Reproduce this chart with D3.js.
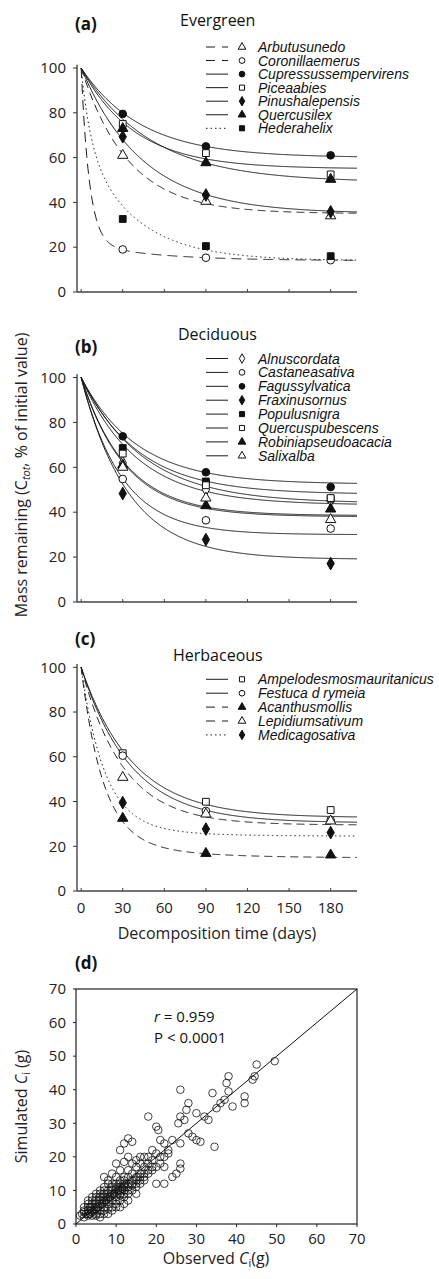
<!DOCTYPE html>
<html><head><meta charset="utf-8">
<script src="https://cdn.jsdelivr.net/npm/d3@7"></script>
<style>body{margin:0;background:#fff} svg{display:block}</style>
</head><body>
<svg id="chart" width="439" height="1279"></svg>
<script>
// ---------- data ----------
const days = [30, 90, 180];
const xTickValues = [0, 30, 60, 90, 120, 150, 180];
const yTickValues = [0, 20, 40, 60, 80, 100];
const scatterTickValues = [0, 10, 20, 30, 40, 50, 60, 70];

const evergreenSpecies = ["Arbutusunedo","Coronillaemerus","Cupressussempervirens","Piceaabies","Pinushalepensis","Quercusilex","Hederahelix"];
const evergreenMarkers = ["triangle-open","circle-open","circle","square-open","diamond","triangle","square"];
const evergreenLines = ["dash","longdash","solid","solid","solid","solid","dot"];
const evergreenValues = [[61,40.5,34],[19,15.3,14.2],[79.5,65,61],[75,62,52.5],[69.3,43.3,35.8],[73,57.7,50.3],[32.6,20.5,16]];
const evergreenAsymptote = [35,14,60,49,35,55,14];
const evergreenSlowPool = [65,8,40,51,65,45,53.8];
const evergreenSlowRate = [0.0297,0.02,0.0231,0.0198,0.0226,0.0258,0.0269];
const evergreenFastRate = [0,0.17,0,0,0,0,0.15];

const deciduousSpecies = ["Alnuscordata","Castaneasativa","Fagussylvatica","Fraxinusornus","Populusnigra","Quercuspubescens","Robiniapseudoacacia","Salixalba"];
const deciduousMarkers = ["diamond-open","circle-open","circle","diamond","square","square-open","triangle","triangle-open"];
const deciduousLines = ["solid","solid","solid","solid","solid","solid","solid","solid"];
const deciduousValues = [[62,50,45.3],[54.8,36.4,32.7],[73.8,57.8,51.2],[48.3,27.8,17.1],[68.6,53.7,46],[66.1,52,46.3],[61,42.9,41.4],[60,46.3,36.7]];
const deciduousAsymptote = [43.2,30,52.5,19,48,44,38.5,38];
const deciduousSlowPool = [56.8,70,47.5,81,52,56,61.5,62];
const deciduousSlowRate = [0.0248,0.0343,0.0247,0.0294,0.0243,0.0223,0.0308,0.0312];
const deciduousFastRate = [0,0,0,0,0,0,0,0];

const herbaceousSpecies = ["Ampelodesmosmauritanicus","Festuca d rymeia","Acanthusmollis","Lepidiumsativum","Medicagosativa"];
const herbaceousMarkers = ["square-open","circle-open","triangle","triangle-open","diamond"];
const herbaceousLines = ["solid","solid","dash","dash","dot"];
const herbaceousValues = [[61.6,39.9,36.2],[60.5,35.8,31.7],[32.5,16.8,16.1],[50.8,34.4,31.3],[39.5,27.7,26.1]];
const herbaceousAsymptote = [32.8,30.5,14.8,29.5,24.5];
const herbaceousSlowPool = [67.2,69.5,10,70.5,5];
const herbaceousSlowRate = [0.027,0.028,0.02,0.033,0.02];
const herbaceousFastRate = [0,0,0.065,0,0.06];

// observed, simulated (g)
const scatterPairs = [
 [49.5,48.5],[45,47.5],[44.5,44],[44,43],[42,38],[42,36],[38,44],[37.5,42],[38,39.5],[37,37],[36,36],[35,34.5],[34.5,23],[39,35],[33,31],[32,32],[34,39],
 [26,40],[27.5,34],[28,36],[26,32],[27,31],[25.5,30],[29,26],[30,25],[31,24.5],[30,33],[28,27],[26,24],[26,18],[26,16.5],[25,15],[24,25],[23,22],
 [20,29],[20.5,28],[18,32],[21,25],[22,24],[19,22],[17,20],[18,20],[22,20],[21,18],[20,17],[19,16],[16,20],[17,17],[18,18],[19,19],[20,21],[21,20],[23,21],[22,17],
 [24,14],[22,12],[20,12],
 [12,24],[13,25.5],[14,24.5],[11,22],[13,20],[10,18],[12,18.5],[11,16],[15,17],[16,15],[15,14],[17,13],[13,12],[14,15],[12,14],[11,13],[13,16],[14,18],[16,18],[15,19],[10,14],[9,15],[8,12],[7,14],[12,11],[11,10],[10,11],[14,13],[12,12],[15,12],[16,13],[13,14],[11,12],[10,12],[9,11],[8,10],[7,9],[6,8],
 [2,2],[2.5,3],[3,2.5],[3,4],[3.5,3],[4,3.5],[4,5],[4.5,4],[5,4.5],[5,6],[5.5,5],[6,5.5],[6,7],[6.5,6],[7,6.5],[7,8],[7.5,7],[8,7.5],[8,9],[8.5,8],[9,8.5],[9,10],[9.5,9],[10,9.5],[10,10.5],[10.5,10],[11,11],[11.5,10.5],[12,11.5],[12,13],
 [3,6],[4,7],[5,8],[5,3],[6,4],[7,5],[8,6],[9,7],[10,8],[11,9],[12,10],[2,4],[3,5],[4,2.5],[6,3],[7,4],[8,4.5],[9,5],[10,6],[11,7],[12,8],[13,9],[14,10],[15,11],[13,10],[14,11.5],[16,12],[17,14],[18,15],[6,10],[5,9],[7,11],[4,8],[3,7],[8,13],[9,12],[2,5],[1.5,3],[1,2.5],[4,4],[5,5],[6,6],[7,7],[3,3],[8,8],[9,9],[10,7],[11,8.5],[12,9],[13,11],[14,12],[15,13],[16,14],[17,15],[18,16],[19,17],[4,6],[5,7],[6,9],[2,3.5],[3.5,5],[7,10],[5,2.5],[6,2],[8,3],[9,4],[10,5],[12,6],[7,3],[13,7],[15,9],[11,5]
];
const statR = "0.959";
const statP = "P < 0.0001";

// ---------- drawing ----------
const svg = d3.select("#chart");
const FONT = "'Open Sans', sans-serif";
const LFONT = "'Liberation Sans', Arial, sans-serif";
const x = d3.scaleLinear().domain([-3, 199]).range([77, 357]);

const dashes = {solid: null, dash: "8,5", longdash: "10,6", dot: "1.5,3"};
const legendDashes = {solid: null, dash: "9,7", longdash: "9,7", dot: "1.5,3"};

function symbolFor(name, size) {
  const base = name.replace("-open", "");
  const type = {circle: d3.symbolCircle, square: d3.symbolSquare, triangle: d3.symbolTriangle, diamond: d3.symbolDiamond}[base];
  return d3.symbol().type(type).size(size)();
}
function drawMarker(g, name, cx, cy, size) {
  const open = name.endsWith("-open");
  g.append("path").attr("d", symbolFor(name, size))
    .attr("transform", `translate(${cx},${cy})`)
    .attr("fill", open ? "#fff" : "#111")
    .attr("stroke", "#111").attr("stroke-width", 1);
}

function drawPanel(p) {
  const y = d3.scaleLinear().domain([0, 100]).range([p.bottom, p.top]);
  const g = svg.append("g");
  g.append("line").attr("x1", 77).attr("x2", 77).attr("y1", y(0)).attr("y2", y(101.5))
    .attr("stroke", "#333").attr("stroke-width", 1.3);
  g.append("line").attr("x1", 77).attr("x2", 357).attr("y1", y(0)).attr("y2", y(0))
    .attr("stroke", "#444").attr("stroke-width", 1.5);
  xTickValues.forEach(t => {
    g.append("line").attr("x1", x(t)).attr("x2", x(t)).attr("y1", y(0)).attr("y2", y(0) - 3)
      .attr("stroke", "#444").attr("stroke-width", 1);
  });
  yTickValues.forEach(v => {
    g.append("line").attr("x1", 73).attr("x2", 77).attr("y1", y(v)).attr("y2", y(v))
      .attr("stroke", "#333").attr("stroke-width", 1);
    g.append("text").attr("x", 66).attr("y", y(v)).attr("dy", "0.35em")
      .attr("text-anchor", "end").attr("font-family", FONT).attr("font-size", 15)
      .attr("fill", "#222").text(v);
  });
  if (p.xLabels) {
    xTickValues.forEach(t => {
      g.append("text").attr("x", x(t)).attr("y", y(0) + 22)
        .attr("text-anchor", "middle").attr("font-family", FONT).attr("font-size", 15)
        .attr("fill", "#222").text(t);
    });
  }
  g.append("text").attr("x", 75).attr("y", p.letterY).attr("font-family", FONT)
    .attr("font-weight", "bold").attr("font-size", 17).attr("fill", "#111").text(p.letter);
  g.append("text").attr("x", p.titleX).attr("y", p.titleY).attr("font-family", FONT)
    .attr("font-size", 16).attr("fill", "#111").text(p.title);

  const tGrid = d3.range(0, 199.01, 0.5);
  p.species.forEach((s, i) => {
    const A = p.asym[i], S = p.slow[i], k1 = p.k1[i], k2 = p.k2[i];
    const model = t => A + S * Math.exp(-k1 * t) + (100 - A - S) * Math.exp(-k2 * t);
    const line = d3.line().x(t => x(t)).y(t => y(model(t)));
    g.append("path").attr("d", line(tGrid)).attr("fill", "none")
      .attr("stroke", "#1a1a1a").attr("stroke-width", 1)
      .attr("stroke-dasharray", dashes[p.lines[i]]);
  });
  p.species.forEach((s, i) => {
    p.values[i].forEach((v, j) => drawMarker(g, p.markers[i], x(days[j]), y(v), 46));
  });
  p.species.forEach((s, i) => {
    const ly = p.legendY + i * p.legendStep;
    g.append("line").attr("x1", 206).attr("x2", 228).attr("y1", ly).attr("y2", ly)
      .attr("stroke", "#1a1a1a").attr("stroke-width", 1)
      .attr("stroke-dasharray", legendDashes[p.lines[i]]);
    drawMarker(g, p.markers[i], 242, ly, 26);
    g.append("text").attr("x", 258).attr("y", ly + 5).attr("font-family", LFONT)
      .attr("font-style", "italic").attr("font-size", 14).attr("fill", "#111").text(s);
  });
}

drawPanel({top: 68, bottom: 292, letter: "(a)", letterY: 30, title: "Evergreen", titleX: 180, titleY: 26,
  species: evergreenSpecies, markers: evergreenMarkers, lines: evergreenLines, values: evergreenValues,
  asym: evergreenAsymptote, slow: evergreenSlowPool, k1: evergreenSlowRate, k2: evergreenFastRate,
  legendY: 47, legendStep: 13.55, xLabels: false});
drawPanel({top: 377.5, bottom: 602, letter: "(b)", letterY: 353, title: "Deciduous", titleX: 178, titleY: 340,
  species: deciduousSpecies, markers: deciduousMarkers, lines: deciduousLines, values: deciduousValues,
  asym: deciduousAsymptote, slow: deciduousSlowPool, k1: deciduousSlowRate, k2: deciduousFastRate,
  legendY: 358.5, legendStep: 13.9, xLabels: false});
drawPanel({top: 667.3, bottom: 891, letter: "(c)", letterY: 645, title: "Herbaceous", titleX: 173, titleY: 660.5,
  species: herbaceousSpecies, markers: herbaceousMarkers, lines: herbaceousLines, values: herbaceousValues,
  asym: herbaceousAsymptote, slow: herbaceousSlowPool, k1: herbaceousSlowRate, k2: herbaceousFastRate,
  legendY: 679.3, legendStep: 13.9, xLabels: true});

svg.append("text").attr("x", 217).attr("y", 939).attr("text-anchor", "middle")
  .attr("font-family", FONT).attr("font-size", 16).attr("fill", "#222").text("Decomposition time (days)");

const yt = svg.append("text").attr("transform", "translate(27,475) rotate(-90)")
  .attr("text-anchor", "middle").attr("font-family", FONT).attr("font-size", 16).attr("fill", "#222");
yt.append("tspan").text("Mass remaining (C");
yt.append("tspan").attr("font-style", "italic").attr("font-size", 11).attr("dy", 3).text("tot");
yt.append("tspan").attr("dy", -3).text(", % of initial value)");

// ---------- scatter (d) ----------
const sx = d3.scaleLinear().domain([0, 70]).range([76, 357]);
const sy = d3.scaleLinear().domain([0, 70]).range([1224, 989]);
const gd = svg.append("g");
gd.append("text").attr("x", 75).attr("y", 969).attr("font-family", FONT)
  .attr("font-weight", "bold").attr("font-size", 17).attr("fill", "#111").text("(d)");
gd.append("rect").attr("x", sx(0)).attr("y", sy(70)).attr("width", sx(70) - sx(0)).attr("height", sy(0) - sy(70))
  .attr("fill", "none").attr("stroke", "#222").attr("stroke-width", 1.2);
scatterTickValues.forEach(v => {
  gd.append("line").attr("x1", sx(v)).attr("x2", sx(v)).attr("y1", sy(0)).attr("y2", sy(0) + 3).attr("stroke", "#222");
  gd.append("line").attr("x1", sx(0) - 3).attr("x2", sx(0)).attr("y1", sy(v)).attr("y2", sy(v)).attr("stroke", "#222");
  gd.append("text").attr("x", sx(v)).attr("y", sy(0) + 20).attr("text-anchor", "middle")
    .attr("font-family", FONT).attr("font-size", 15).attr("fill", "#222").text(v);
  gd.append("text").attr("x", 66).attr("y", sy(v)).attr("dy", "0.35em").attr("text-anchor", "end")
    .attr("font-family", FONT).attr("font-size", 15).attr("fill", "#222").text(v);
});
gd.append("line").attr("x1", sx(0)).attr("y1", sy(0)).attr("x2", sx(70)).attr("y2", sy(70))
  .attr("stroke", "#111").attr("stroke-width", 1);
gd.selectAll("circle.pt").data(scatterPairs).join("circle").attr("class", "pt")
  .attr("cx", d => sx(d[0])).attr("cy", d => sy(d[1])).attr("r", 3.8)
  .attr("fill", "none").attr("stroke", "#111").attr("stroke-width", 0.8);

const rt = gd.append("text").attr("x", 154).attr("y", 1022).attr("font-family", FONT).attr("font-size", 15).attr("fill", "#111");
rt.append("tspan").attr("font-style", "italic").text("r");
rt.append("tspan").text(" = " + statR);
gd.append("text").attr("x", 154).attr("y", 1043).attr("font-family", FONT).attr("font-size", 15).attr("fill", "#111").text(statP);

const xt = gd.append("text").attr("x", 216).attr("y", 1264).attr("text-anchor", "middle")
  .attr("font-family", FONT).attr("font-size", 16).attr("fill", "#222");
xt.append("tspan").text("Observed ");
xt.append("tspan").attr("font-style", "italic").text("C");
xt.append("tspan").attr("font-size", 11).attr("dy", 3).text("i");
xt.append("tspan").attr("dy", -3).text("(g)");

const ytd = gd.append("text").attr("transform", `translate(27,${(sy(0) + sy(70)) / 2}) rotate(-90)`)
  .attr("text-anchor", "middle").attr("font-family", FONT).attr("font-size", 16).attr("fill", "#222");
ytd.append("tspan").text("Simulated ");
ytd.append("tspan").attr("font-style", "italic").text("C");
ytd.append("tspan").attr("font-size", 11).attr("dy", 3).text("i");
ytd.append("tspan").attr("dy", -3).text(" (g)");
</script>
</body></html>
